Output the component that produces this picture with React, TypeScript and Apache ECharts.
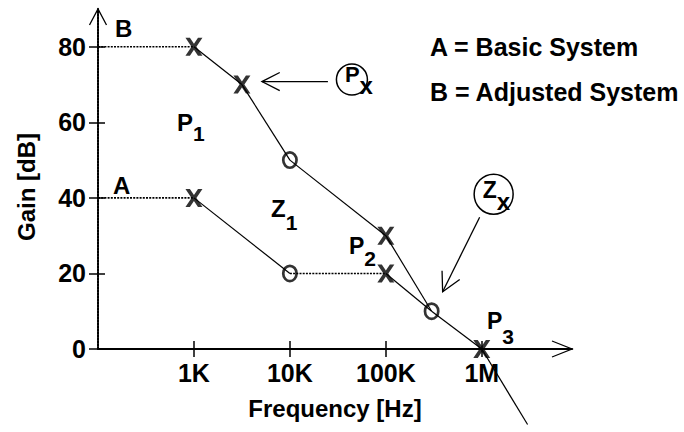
import React, { useEffect, useRef } from "react";
import * as echarts from "echarts";

// ---- data ----
// Curve A (basic system): corner frequencies [Hz] and gain [dB]
const freqA = [100, 1000, 10000, 100000, 300000, 1000000, 3000000];
const gainA = [40, 40, 20, 20, 10, 0, -20];
const styleA = ["dotted", "solid", "dotted", "solid", "solid", "solid"];
// Curve B (adjusted system)
const freqB = [100, 1000, 3162, 10000, 100000, 300000];
const gainB = [80, 80, 70, 50, 30, 10];
const styleB = ["dotted", "solid", "solid", "solid", "solid"];
// Poles (X) and zeros (O)
const poleFreq = [1000, 3162, 100000, 1000, 100000, 1000000];
const poleGain = [80, 70, 30, 40, 20, 0];
const zeroFreq = [10000, 10000, 300000];
const zeroGain = [50, 20, 10];
// Axis ticks
const xTickValues = [1000, 10000, 100000, 1000000];
const xTickLabels = ["1K", "10K", "100K", "1M"];
const yTickValues = [0, 20, 40, 60, 80];
const X_MIN = 100;
const X_MAX = Math.pow(10, 6.94);
const Y_MIN = 0;
const Y_MAX = 90;

const FONT = '"Liberation Sans", Arial, Helvetica, sans-serif';

const X_SYMBOL = "path://M0,0H4.2L8,6L11.8,0H16L10.3,9L16,18H11.8L8,12L4.2,18H0L5.7,9Z";
const O_SYMBOL =
  "path://M8,0A8,9 0 1,1 8,18A8,9 0 1,1 8,0ZM8,2.7A5.3,6.3 0 1,0 8,15.3A5.3,6.3 0 1,0 8,2.7Z";

function segSeries(freqs: number[], gains: number[], styles: string[]) {
  const out: any[] = [];
  for (let i = 0; i < styles.length; i++) {
    const dotted = styles[i] === "dotted";
    out.push({
      type: "line",
      data: [
        [freqs[i], gains[i]],
        [freqs[i + 1], gains[i + 1]],
      ],
      showSymbol: false,
      symbol: "none",
      clip: false,
      silent: true,
      lineStyle: {
        color: "#000",
        width: dotted ? 1.6 : 1.2,
        type: dotted ? [2, 1.2] : "solid",
      },
      z: 2,
    });
  }
  return out;
}

function txt(text: string, x: number, y: number, size: number) {
  return {
    type: "text",
    style: {
      text,
      x,
      y,
      fill: "#000",
      fontSize: size,
      fontWeight: "bold",
      fontFamily: FONT,
      align: "left",
      verticalAlign: "middle",
    },
    z: 10,
  };
}

// main letter with a lowered subscript, as one rich text; (x, y) = left / centre of main letter
function sub(main: string, s: string, x: number, y: number, mainSize: number, subSize: number, drop: number) {
  const lh = 2 * drop + 22;
  return {
    type: "text",
    style: {
      text: `{m|${main}}{s|${s}}`,
      x,
      y: y - lh / 2,
      align: "left",
      verticalAlign: "top",
      rich: {
        m: { fontSize: mainSize, fontWeight: "bold", fontFamily: FONT, fill: "#000", lineHeight: lh, verticalAlign: "middle" },
        s: { fontSize: subSize, fontWeight: "bold", fontFamily: FONT, fill: "#000", lineHeight: lh, verticalAlign: "bottom" },
      },
    },
    z: 10,
  };
}

function arrowHead(tip: number[], from: number[], len: number, ang: number) {
  const dx = from[0] - tip[0];
  const dy = from[1] - tip[1];
  const base = Math.atan2(dy, dx);
  const a1 = base + (ang * Math.PI) / 180;
  const a2 = base - (ang * Math.PI) / 180;
  return [
    [tip[0] + len * Math.cos(a1), tip[1] + len * Math.sin(a1)],
    [tip[0], tip[1]],
    [tip[0] + len * Math.cos(a2), tip[1] + len * Math.sin(a2)],
  ];
}

const lineStyle = { stroke: "#000", lineWidth: 1.3, fill: "none" };

export default function App() {
  const ref = useRef<HTMLDivElement>(null);
  useEffect(() => {
    if (!ref.current) return;
    const chart = echarts.init(ref.current, null, { renderer: "svg" });
    const labelFmt = (v: number) => {
      const i = xTickValues.findIndex((t) => Math.abs(Math.log10(t) - Math.log10(v)) < 1e-6);
      return i >= 0 ? xTickLabels[i] : "";
    };
    const tickStyle = { color: "#000", width: 1.5 };
    const labelFont = { color: "#000", fontSize: 25, fontWeight: "bold", fontFamily: FONT };
    const option: any = {
      animation: false,
      backgroundColor: "#fff",
      grid: { left: 98, right: 112, top: 9, bottom: 83, containLabel: false, outerBoundsMode: "none" },
      xAxis: [
        {
          type: "log",
          logBase: 10,
          min: X_MIN,
          max: X_MAX,
          position: "bottom",
          axisLine: { show: true, onZero: false, lineStyle: { color: "#000", width: 2 } },
          axisTick: { show: true, length: 8, customValues: xTickValues, lineStyle: tickStyle },
          axisLabel: { show: true, customValues: xTickValues, formatter: labelFmt, margin: 11, ...labelFont },
          splitLine: { show: false },
          minorTick: { show: false },
          minorSplitLine: { show: false },
          name: "Frequency [Hz]",
          nameLocation: "middle",
          nameGap: 47,
          nameTextStyle: { color: "#000", fontSize: 24, fontWeight: "bold", fontFamily: FONT },
        },
        {
          type: "log",
          logBase: 10,
          min: X_MIN,
          max: X_MAX,
          position: "bottom",
          axisLine: { show: false, onZero: false },
          axisTick: { show: true, inside: true, length: 8, customValues: xTickValues, lineStyle: tickStyle },
          axisLabel: { show: false },
          splitLine: { show: false },
        },
      ],
      yAxis: [
        {
          type: "value",
          min: Y_MIN,
          max: Y_MAX,
          position: "left",
          axisLine: { show: true, onZero: false, lineStyle: { color: "#000", width: 2, type: [2, 1] } },
          axisTick: { show: true, length: 9, customValues: yTickValues, lineStyle: tickStyle },
          axisLabel: { show: true, customValues: yTickValues, margin: 12, ...labelFont },
          splitLine: { show: false },
          name: "Gain [dB]",
          nameLocation: "middle",
          nameGap: 60,
          nameTextStyle: { color: "#000", fontSize: 24, fontWeight: "bold", fontFamily: FONT, padding: [0, 16, 0, 0] },
        },
        {
          type: "value",
          min: Y_MIN,
          max: Y_MAX,
          position: "left",
          axisLine: { show: false, onZero: false },
          axisTick: { show: true, inside: true, length: 7, customValues: yTickValues, lineStyle: tickStyle },
          axisLabel: { show: false },
          splitLine: { show: false },
        },
      ],
      series: [
        ...segSeries(freqA, gainA, styleA),
        ...segSeries(freqB, gainB, styleB),
        {
          type: "scatter",
          data: poleFreq.map((f, i) => [f, poleGain[i]]),
          symbol: X_SYMBOL,
          symbolSize: [17, 18],
          itemStyle: { color: "#000" },
          clip: false,
          silent: true,
          z: 5,
        },
        {
          type: "scatter",
          data: zeroFreq.map((f, i) => [f, zeroGain[i]]),
          symbol: O_SYMBOL,
          symbolSize: [16, 18],
          itemStyle: { color: "#000" },
          clip: false,
          silent: true,
          z: 5,
        },
      ],
    };
    chart.setOption(option);

    const px = (f: number, g: number) => chart.convertToPixel({ gridIndex: 0 }, [f, g]) as number[];
    const yTip = px(X_MIN, Y_MAX);
    const xTip = px(X_MAX, Y_MIN);
    const pxAnchor = px(poleFreq[1], poleGain[1]);
    const zxAnchor = px(zeroFreq[2], zeroGain[2]);

    const pTip = [pxAnchor[0] + 20, pxAnchor[1] - 3];
    const pTail = [pxAnchor[0] + 86, pxAnchor[1] - 3];
    const pC = [pxAnchor[0] + 110, pxAnchor[1] - 5];
    const zTip = [zxAnchor[0] + 11, zxAnchor[1] - 19.5];
    const zTail = [zxAnchor[0] + 48, zxAnchor[1] - 94];
    const zC = [zxAnchor[0] + 62, zxAnchor[1] - 117];

    const graphic: any[] = [
      { type: "polyline", shape: { points: [[yTip[0] - 8.5, yTip[1] + 16], yTip, [yTip[0] + 8.5, yTip[1] + 16]] }, style: lineStyle },
      { type: "polyline", shape: { points: [[xTip[0] - 20, xTip[1] - 8], xTip, [xTip[0] - 20, xTip[1] + 8]] }, style: lineStyle },
      // Px annotation
      { type: "line", shape: { x1: pTail[0], y1: pTail[1], x2: pTip[0], y2: pTip[1] }, style: lineStyle },
      { type: "polyline", shape: { points: arrowHead(pTip, pTail, 20, 27) }, style: lineStyle },
      { type: "ellipse", shape: { cx: pC[0], cy: pC[1], rx: 15.5, ry: 15.5 }, style: { stroke: "#000", lineWidth: 1.5, fill: "none" } },
      sub("P", "x", pC[0] - 7, pC[1] - 5, 22, 24, 12),
      // Zx annotation
      { type: "line", shape: { x1: zTail[0], y1: zTail[1], x2: zTip[0], y2: zTip[1] }, style: lineStyle },
      { type: "polyline", shape: { points: arrowHead(zTip, zTail, 21, 28) }, style: lineStyle },
      { type: "ellipse", shape: { cx: zC[0], cy: zC[1], rx: 19.5, ry: 20 }, style: { stroke: "#000", lineWidth: 1.5, fill: "none" } },
      sub("Z", "x", zC[0] - 11, zC[1] - 4, 23, 24, 12),
      // curve labels
      txt("B", 115, 28, 24),
      txt("A", 113, 185, 24),
      sub("P", "1", 177, 122, 24, 21, 11),
      sub("Z", "1", 271, 208, 24, 21, 14),
      sub("P", "2", 349, 245.5, 23, 21, 12),
      sub("P", "3", 487, 320.5, 23, 21, 15),
      // legend text
      txt("A = Basic System", 430, 47, 25),
      txt("B = Adjusted System", 430, 92, 25),
    ];
    chart.setOption({ graphic });

    return () => chart.dispose();
  }, []);
  return (
    <div
      ref={ref}
      style={{ position: "fixed", left: 0, top: 0, width: 684, height: 432, background: "#fff" }}
    />
  );
}
